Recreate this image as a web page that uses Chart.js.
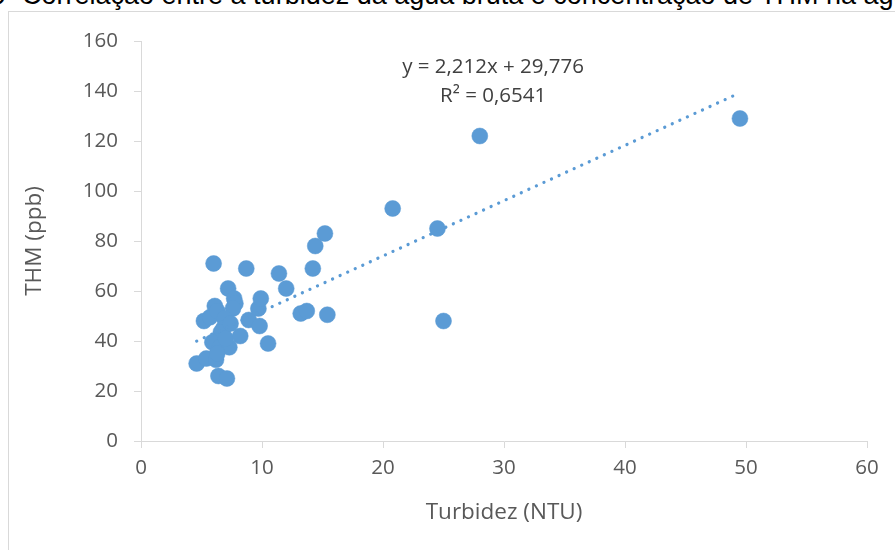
<!DOCTYPE html>
<html lang="pt">
<head>
<meta charset="utf-8">
<script src="https://cdn.jsdelivr.net/npm/chart.js@4/dist/chart.umd.min.js"></script>
<style>
  html, body { margin: 0; padding: 0; background: #fff; overflow: hidden; }
  body { width: 895px; height: 550px; position: relative; }
  #frame {
    position: absolute; left: 8px; top: 11px; width: 900px; height: 560px;
    border-left: 1px solid #d9d9d9; border-top: 1px solid #d9d9d9;
  }
  #caption {
    position: absolute; left: 22px; top: -20px; white-space: nowrap;
    font-family: "Liberation Sans", Arial, sans-serif; font-size: 27px; color: #000;
    line-height: 30px;
  }
  #caption .prefix { position: absolute; right: 100%; padding-right: 16px; }
  #wrap { position: absolute; left: 0; top: 0; width: 895px; height: 550px; }
</style>
</head>
<body>
<div id="frame"></div>
<div id="caption"><span class="prefix">Figura 9</span>Correlação entre a turbidez da água bruta e concentração de THM na água tratada</div>
<div id="wrap"><canvas id="chart"></canvas></div>
<script>
// Turbidez (NTU) x THM (ppb)
const turbidez = [4.6, 5.4, 6.2, 6.4, 7.1, 5.2, 5.7, 6.0, 6.1, 6.3, 7.2, 7.7, 7.8, 7.6,
  6.9, 6.8, 6.6, 6.2, 5.9, 6.5, 7.3, 7.0, 8.2, 8.9, 9.8, 9.7, 9.9, 8.7, 11.4, 12.0,
  10.5, 13.2, 13.7, 15.4, 14.2, 14.4, 15.2, 20.8, 24.5, 25.0, 28.0, 49.5, 6.3, 7.4];
const thm = [31, 33, 32.5, 26, 25, 48, 49.5, 71, 54, 52, 61, 57, 55, 53,
  49, 45, 43.5, 40, 39.5, 37.5, 37.5, 41, 42, 48.4, 46, 53, 57, 69, 67, 61,
  39, 51, 52, 50.5, 69, 78, 83, 93, 85, 48, 122, 129, 35, 47];

// linear trendline as given in the figure
const slope = 2.212;
const intercept = 29.776;
const eqText = ["y = 2,212x + 29,776", "R² = 0,6541"];

const xTicks = [0, 10, 20, 30, 40, 50, 60];
const yTicks = [0, 20, 40, 60, 80, 100, 120, 140, 160];

const blue = "#5b9bd5";
const textColor = "#595959";
const axisColor = "#d9d9d9";
const font = { family: "'Open Sans', sans-serif", size: 20.5 };
const titleFont = { family: "'Open Sans', sans-serif", size: 22.5 };

const points = turbidez.map((x, i) => ({ x: x, y: thm[i] }));
const xMin = Math.min(...turbidez);
const xMax = Math.max(...turbidez);
const trend = [xMin, xMax].map((x) => ({ x: x, y: slope * x + intercept }));

const equationLabel = {
  id: "equationLabel",
  afterDatasetsDraw(chart) {
    const { ctx, scales } = chart;
    ctx.save();
    ctx.font = "20.5px 'Open Sans', sans-serif";
    ctx.fillStyle = "#404040";
    ctx.textAlign = "center";
    ctx.textBaseline = "middle";
    const cx = scales.x.getPixelForValue(29.1);
    ctx.fillText(eqText[0], cx, scales.y.getPixelForValue(149.6));
    ctx.fillText(eqText[1], cx, scales.y.getPixelForValue(137.8));
    ctx.restore();
  },
};

new Chart(document.getElementById("chart"), {
  type: "scatter",
  data: {
    datasets: [
      {
        type: "line",
        data: trend,
        borderColor: blue,
        borderWidth: 3.2,
        borderDash: [0.1, 8.2],
        borderCapStyle: "round",
        pointRadius: 0,
        fill: false,
        order: 0,
      },
      {
        data: points,
        backgroundColor: blue,
        borderColor: blue,
        borderWidth: 0.5,
        pointRadius: 8,
        order: 1,
      },
    ],
  },
  options: {
    responsive: true,
    maintainAspectRatio: false,
    animation: false,
    layout: { padding: { top: 41, right: 28, left: 0, bottom: 0 } },
    plugins: { legend: { display: false }, tooltip: { enabled: false } },
    scales: {
      x: {
        type: "linear",
        min: 0,
        max: 60,
        afterBuildTicks: (axis) => { axis.ticks = xTicks.map((v) => ({ value: v })); },
        afterFit: (axis) => { axis.height = 109; },
        ticks: { color: textColor, font: font, padding: 8 },
        grid: { drawOnChartArea: false, drawTicks: true, tickLength: 7, color: axisColor },
        border: { color: axisColor },
        title: { display: true, text: "Turbidez (NTU)", color: textColor, font: titleFont, padding: { top: 0, bottom: 24 } },
      },
      y: {
        type: "linear",
        min: 0,
        max: 160,
        afterBuildTicks: (axis) => { axis.ticks = yTicks.map((v) => ({ value: v })); },
        afterFit: (axis) => { axis.width = 141; },
        ticks: { color: textColor, font: font, padding: 16 },
        grid: { drawOnChartArea: false, drawTicks: true, tickLength: 7, color: axisColor },
        border: { color: axisColor },
        title: { display: true, text: "THM (ppb)", color: textColor, font: titleFont, padding: { top: 21, bottom: 0 } },
      },
    },
  },
  plugins: [equationLabel],
});
</script>
</body>
</html>
